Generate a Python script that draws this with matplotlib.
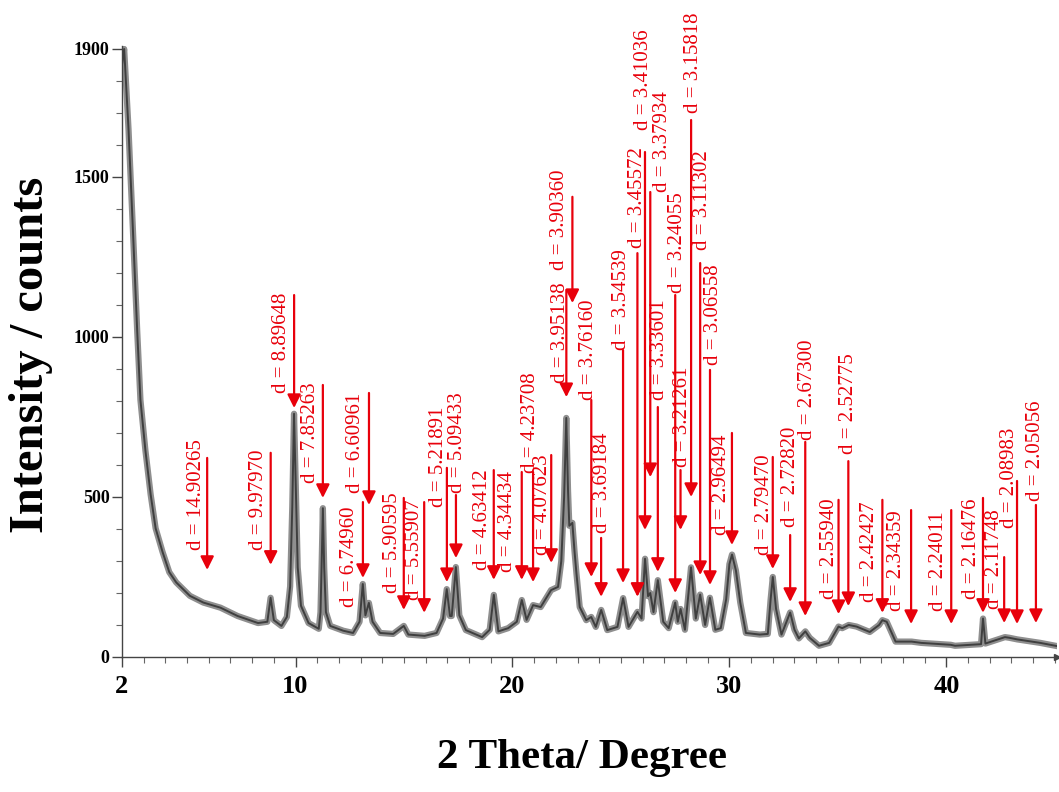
import matplotlib
matplotlib.use("Agg")
from matplotlib import pyplot as plt
from matplotlib.ticker import MultipleLocator, FixedLocator
import numpy as np

# --- diffractogram (2 theta in degrees, counts) ---
two_theta = [2.00, 2.10, 2.30, 2.50, 2.70, 2.85, 3.08, 3.32, 3.55, 3.87,
             4.18, 4.50, 5.13, 5.75, 6.54, 7.33, 8.27, 8.70, 8.85, 9.00,
             9.35, 9.60, 9.75, 9.85, 9.93, 10.00, 10.10, 10.25, 10.60, 11.07,
             11.15, 11.20, 11.26, 11.32, 11.40, 11.60, 12.20, 12.65, 12.95, 13.10,
             13.22, 13.38, 13.55, 13.90, 14.50, 14.99, 15.20, 15.95, 16.50, 16.80,
             16.97, 17.12, 17.20, 17.39, 17.55, 17.85, 18.60, 18.95, 19.14, 19.35,
             19.80, 20.20, 20.43, 20.65, 20.95, 21.30, 21.78, 22.10, 22.25, 22.38,
             22.48, 22.56, 22.62, 22.76, 22.86, 22.95, 23.10, 23.40, 23.63, 23.84,
             24.09, 24.37, 24.84, 25.10, 25.35, 25.76, 25.95, 26.11, 26.25, 26.35,
             26.50, 26.70, 26.95, 27.20, 27.50, 27.62, 27.75, 27.95, 28.23, 28.45,
             28.65, 28.88, 29.10, 29.35, 29.60, 29.85, 30.00, 30.12, 30.30, 30.50,
             30.76, 31.40, 31.77, 31.90, 32.00, 32.15, 32.40, 32.80, 33.00, 33.20,
             33.50, 33.70, 34.13, 34.60, 35.03, 35.20, 35.50, 35.86, 36.47, 36.90,
             37.05, 37.25, 37.66, 38.40, 38.84, 40.20, 40.40, 41.60, 41.69, 41.80,
             42.70, 42.90, 43.26, 43.55, 44.13, 44.33, 45.10]
counts = [1850, 1900, 1650, 1340, 1020, 803, 645, 508, 402, 328,
          265, 233, 191, 170, 154, 128, 106, 110, 185, 115,
          97, 125, 220, 470, 760, 560, 280, 160, 106, 88,
          140, 280, 465, 280, 140, 97, 82, 75, 110, 228,
          130, 169, 110, 75, 72, 97, 70, 66, 75, 120,
          212, 128, 128, 281, 130, 84, 62, 85, 194, 80,
          90, 110, 178, 116, 162, 156, 209, 219, 300, 500,
          747, 520, 410, 419, 330, 260, 156, 115, 125, 94,
          147, 84, 94, 184, 94, 141, 120, 307, 190, 200,
          140, 240, 110, 90, 170, 110, 150, 85, 280, 120,
          195, 100, 185, 85, 90, 180, 290, 320, 270, 170,
          75, 70, 72, 180, 250, 150, 70, 139, 85, 58,
          80, 60, 35, 44, 95, 90, 100, 95, 78, 100,
          115, 110, 48, 48, 44, 38, 35, 40, 120, 42,
          62, 60, 55, 52, 46, 44, 34]

# --- d-spacing labels ---
d_labels = ["14.90265", "9.97970", "8.89648", "7.85263", "6.74960", "6.60961",
            "5.90595", "5.55907", "5.21891", "5.09433", "4.63412", "4.34434",
            "4.23708", "4.07623", "3.95138", "3.90360", "3.76160", "3.69184",
            "3.54539", "3.45572", "3.41036", "3.37934", "3.33601", "3.24055",
            "3.21261", "3.15818", "3.11302", "3.06558", "2.96494", "2.79470",
            "2.72820", "2.67300", "2.55940", "2.52775", "2.42427", "2.34359",
            "2.24011", "2.16476", "2.11748", "2.08983", "2.05056"]
peak_theta = [5.926, 8.854, 9.934, 11.259, 13.106, 13.385, 14.989, 15.930,
              16.976, 17.394, 19.137, 20.427, 20.949, 21.786, 22.483, 22.762,
              23.633, 24.086, 25.097, 25.759, 26.108, 26.352, 26.700, 27.502,
              27.746, 28.234, 28.652, 29.105, 30.116, 31.998, 32.800, 33.496,
              35.030, 35.482, 37.051, 38.375, 40.225, 41.689, 42.665, 43.258,
              44.129]
arrow_tip = [272, 288, 778, 497, 247, 475, 147, 138, 234, 309, 241, 241,
             234, 294, 812, 1106, 250, 188, 231, 188, 397, 562, 266, 200,
             397, 500, 256, 225, 350, 275, 172, 128, 134, 159, 138, 103,
             103, 138, 106, 103, 106]
arrow_top = [622, 638, 1131, 850, 484, 825, 497, 484, 591, 506, 584, 578,
             578, 631, 1147, 1438, 803, 372, 959, 1262, 1578, 1453, 781, 1131,
             584, 1678, 1231, 897, 700, 625, 381, 672, 491, 612, 491, 459,
             459, 497, 312, 550, 475]
text_bottom = [334, 334, 825, 544, 156, 512, 200, 178, 469, 512, 272, 266,
               575, 319, 856, 1209, 803, 388, 959, 1278, 1647, 1453, 803, 1138,
               594, 1700, 1272, 912, 381, 319, 406, 678, 181, 634, 172, 144,
               144, 181, 150, 403, 488]
# horizontal shift of each label from its arrow, in degrees
text_shift = [-0.51, -0.55, -0.60, -0.55, -0.60, -0.60, -0.51, -0.46, -0.37,
              0.05, -0.51, -0.65, -0.14, -0.42, -0.28, -0.60, -0.14, 0.05,
              -0.09, 0.0, -0.09, 0.55, 0.09, 0.09, 0.09, 0.09, 0.09, 0.14,
              -0.46, -0.37, 0.0, 0.09, -0.42, 0.0, -0.60, -0.65, -0.60, -0.55,
              -0.46, -0.37, 0.0]

red = "#e8000b"
serif = ["Liberation Serif", "DejaVu Serif"]

fig = plt.figure(figsize=(10.59, 7.92), dpi=100)
ax = fig.add_axes([0.1152, 0.1705, 0.8829, 0.7717])

# grey noisy band of the scan: wide light stroke + dark core
ax.plot(two_theta, counts, color="#8f8f8f", lw=4.5, solid_joinstyle="round")
ax.plot(two_theta, counts, color="#3f3f3f", lw=1.4)

for lab, x, tip, top, tb, dx in zip(d_labels, peak_theta, arrow_tip,
                                    arrow_top, text_bottom, text_shift):
    ax.annotate("", xy=(x, tip), xytext=(x, top), annotation_clip=False,
                arrowprops=dict(arrowstyle="-|>", color=red, lw=1.6,
                                mutation_scale=20, shrinkA=0, shrinkB=0))
    ax.text(x + dx, tb, "d = " + lab, rotation=90, ha="center", va="bottom",
            color=red, fontsize=15, family=serif, clip_on=False)

ax.set_xlim(2, 45.1)
ax.set_ylim(0, 1910)
ax.spines["top"].set_visible(False)
ax.spines["right"].set_visible(False)
for s in ["left", "bottom"]:
    ax.spines[s].set_color("#444444")
    ax.spines[s].set_linewidth(1.0)
ax.plot(1, 0, ">", color="#444444", ms=4, transform=ax.transAxes, clip_on=False)

ax.xaxis.set_major_locator(FixedLocator([2, 10, 20, 30, 40]))
ax.xaxis.set_minor_locator(MultipleLocator(1))
ax.yaxis.set_major_locator(FixedLocator([0, 500, 1000, 1500, 1900]))
ax.yaxis.set_minor_locator(MultipleLocator(100))
ax.tick_params(which="major", direction="out", length=7, width=1, color="#444444")
ax.tick_params(which="minor", direction="out", length=4, width=0.8, color="#666666")
ax.tick_params(axis="x", pad=6)
ax.tick_params(axis="y", pad=2)
for t in ax.get_xticklabels():
    t.set_fontfamily(serif)
    t.set_fontweight("bold")
    t.set_fontsize(19)
for t in ax.get_yticklabels():
    t.set_fontfamily(serif)
    t.set_fontweight("bold")
    t.set_fontsize(13)

fig.text(0.029, 0.552, "Intensity / counts", rotation=90, ha="center", va="center",
         fontsize=35, fontweight="bold", family=serif)
fig.text(0.55, 0.043, "2 Theta/ Degree", ha="center", va="center",
         fontsize=31, fontweight="bold", family=serif)

fig.savefig("out.png", dpi=100)
